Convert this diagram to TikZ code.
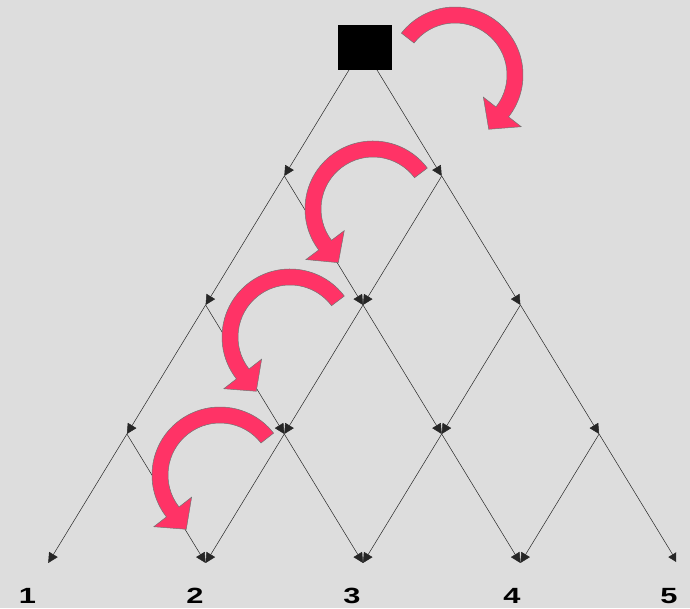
\documentclass[tikz,border=0pt]{standalone}
\usepackage{fontspec}
\setmainfont{Liberation Sans}
\usetikzlibrary{arrows.meta, calc}

% curved red arrow: centre, tail angle, head angle, turn (+90 ccw, -90 cw)
\newcommand{\swirl}[4]{%
  \filldraw[swirlarrow] ($#1+(#2:68)$) arc[start angle=#2, end angle=#3, radius=68]
    -- ($#1+(#3:84)$) -- ($#1+(#3:60)+(#3#4:22)$) -- ($#1+(#3:36)$) -- ($#1+(#3:52)$)
    arc[start angle=#3, end angle=#2, radius=52] -- cycle;}

\begin{document}
\begin{tikzpicture}[x=1pt, y=1pt, >={Triangle[length=10pt, width=10pt]}]
    \definecolor{bg}{RGB}{221,221,221} \definecolor{swirlred}{RGB}{255,51,102}
    \tikzset{
        edge/.style={->, line width=0.5pt, black!85},
        swirlarrow/.style={fill=swirlred, draw=black!55, line width=0.5pt},
        numlabel/.style={font=\fontsize{22}{22}\selectfont\bfseries, xscale=1.4, transform shape, inner sep=0pt},
    }

    \fill[bg] (0,0) rectangle (690,608);
    \useasboundingbox (0,0) rectangle (690,608);

    % grid points of the tree
    \foreach \k in {0,...,4} {
        \foreach \i in {0,...,\k} {
            \coordinate (n\k\i) at ({363+(2*\i-\k)*78.7}, {561-129*\k});
        }
    }

    \begin{scope}
        \clip (0,0) rectangle (676,608);
        \foreach \k [evaluate=\k as \kk using int(\k+1)] in {0,...,3} {
            \foreach \i [evaluate=\i as \ii using int(\i+1)] in {0,...,\k} {
                \draw[edge] (n\k\i) -- (n\kk\i);
                \draw[edge] (n\k\i) -- (n\kk\ii);
            }
        }
        \node[numlabel] (lab1) at (27.5,12) {1};
        \node[numlabel] (lab2) at (195,12) {2};
        \node[numlabel] (lab3) at (352,12) {3};
        \node[numlabel] (lab4) at (512,12) {4};
        \node[numlabel] (lab5) at (669,12) {5};
    \end{scope}

    \node[fill=black, minimum width=54pt, minimum height=45pt, inner sep=0pt] (top) at (365,560.5) {};

    \swirl{(455,533)}{142}{-38}{-90}
    \swirl{(373,399)}{37}{217}{+90}
    \swirl{(290,271)}{37}{218}{+90}
    \swirl{(220,133)}{38}{218}{+90}
\end{tikzpicture}
\end{document}
